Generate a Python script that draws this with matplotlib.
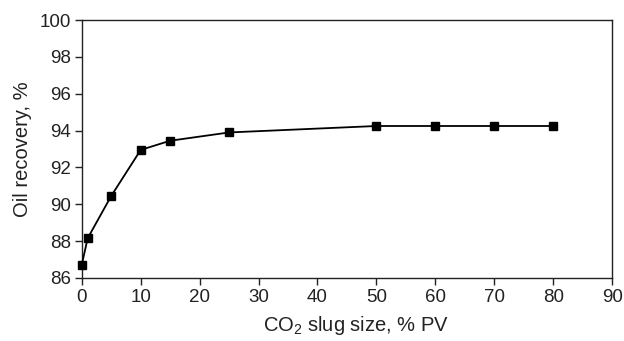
import matplotlib
matplotlib.use("Agg")
import matplotlib.pyplot as plt

# CO2 slug size (% PV) vs oil recovery (%)
slug_size = [0, 1, 5, 10, 15, 25, 50, 60, 70, 80]
recovery = [86.7, 88.15, 90.45, 92.95, 93.45, 93.9, 94.25, 94.25, 94.25, 94.25]

plt.rcParams['font.family'] = ['Liberation Sans', 'DejaVu Sans']
plt.rcParams['mathtext.fontset'] = 'custom'
plt.rcParams['mathtext.rm'] = 'Liberation Sans'
plt.rcParams['mathtext.it'] = 'Liberation Sans'

fig = plt.figure(figsize=(6.24, 3.41), dpi=100)
ax = fig.add_axes([0.131, 0.185, 0.85, 0.756])

ax.plot(slug_size, recovery, color="black", linewidth=1.3,
        marker="s", markersize=6, markerfacecolor="black", clip_on=False, zorder=5)

ax.set_xlim(0, 90)
ax.set_ylim(86, 100)
ax.set_xticks(range(0, 91, 10))
ax.set_yticks(range(86, 101, 2))
ax.tick_params(direction="out", length=5, width=1, labelsize=13.5, colors="#222222", pad=3)
ax.tick_params(top=False, right=False)
for s in ax.spines.values():
    s.set_linewidth(1.0)
    s.set_color("#222222")

ax.set_xlabel(r"CO$_2$ slug size, % PV", fontsize=14.5, color="#222222")
ax.xaxis.set_label_coords(0.517, -0.14)
ax.set_ylabel("Oil recovery, %", fontsize=14.5, color="#222222", labelpad=5)

fig.savefig("out.png", dpi=100)
plt.close()
